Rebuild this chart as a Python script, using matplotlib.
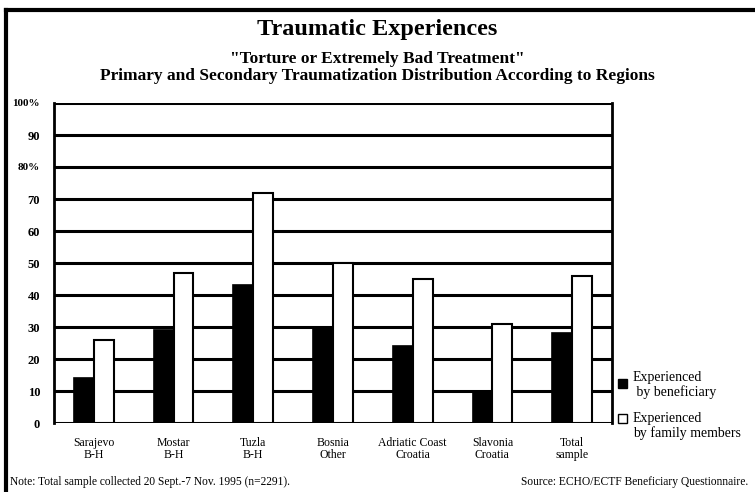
import numpy as np
import matplotlib
matplotlib.use("Agg")
from matplotlib import pyplot as plt
from matplotlib.lines import Line2D
from matplotlib.patches import Rectangle

regions = ["Sarajevo\nB-H", "Mostar\nB-H", "Tuzla\nB-H", "Bosnia\nOther",
           "Adriatic Coast\nCroatia", "Slavonia\nCroatia", "Total\nsample"]
beneficiary = [14, 29, 43, 30, 24, 10, 28]
family = [26, 47, 72, 50, 45, 31, 46]
y_ticks = [0, 10, 20, 30, 40, 50, 60, 70, 80, 90, 100]
y_labels = ["0", "10", "20", "30", "40", "50", "60", "70", "80%", "90", "100%"]

plt.rcParams['font.family'] = ['Liberation Serif', 'DejaVu Serif']

W, H = 755, 492
fig = plt.figure(figsize=(W / 100, H / 100), dpi=100)
ax = fig.add_axes([54 / W, 1 - 423 / H, (612 - 54) / W, (423 - 103) / H])

x = np.arange(len(regions))
bw = 0.25
for yv in y_ticks:
    ax.axhline(yv, color="black", lw=2.2, zorder=1)
ax.bar(x - bw / 2, beneficiary, bw, color="black", edgecolor="black", lw=1.2, zorder=3)
ax.bar(x + bw / 2, family, bw, color="white", edgecolor="black", lw=1.5, zorder=3)

ax.set_xlim(-0.5, 6.5)
ax.set_ylim(0, 100)
ax.set_yticks(y_ticks)
ax.set_yticklabels(y_labels, fontweight="bold")
for lab in ax.get_yticklabels():
    # the percent labels are set a little smaller in the original
    lab.set_fontsize(8 if "%" in lab.get_text() else 9)
ax.tick_params(axis="y", length=0, pad=10)
ax.set_xticks(x)
ax.set_xticklabels(regions, fontsize=8.5, linespacing=1.05)
ax.tick_params(axis="x", length=0, pad=10)
for s in ["left", "right"]:
    ax.spines[s].set_linewidth(2)
ax.spines["top"].set_visible(False)
ax.spines["bottom"].set_visible(False)

# outer frame (top and left only)
fig.add_artist(Line2D([6 / W, 1], [1 - 10 / H, 1 - 10 / H], color="black", lw=3))
fig.add_artist(Line2D([6 / W, 6 / W], [0, 1 - 10 / H], color="black", lw=3))

fig.text(0.5, 1 - 29 / H, "Traumatic Experiences", ha="center", va="center",
         fontsize=17.5, fontweight="bold")
fig.text(0.5, 1 - 59 / H, "\"Torture or Extremely Bad Treatment\"", ha="center",
         va="center", fontsize=12.5, fontweight="bold")
fig.text(0.5, 1 - 76 / H,
         "Primary and Secondary Traumatization Distribution According to Regions",
         ha="center", va="center", fontsize=12.5, fontweight="bold")

# legend
fig.add_artist(Rectangle((618 / W, 1 - 388 / H), 9 / W, 9 / H, facecolor="black",
                         edgecolor="black", lw=1, transform=fig.transFigure))
fig.text(633 / W, 1 - 385 / H, "Experienced\n by beneficiary", ha="left", va="center",
         fontsize=10, linespacing=1.05)
fig.add_artist(Rectangle((618 / W, 1 - 423 / H), 9 / W, 9 / H, facecolor="white",
                         edgecolor="black", lw=1, transform=fig.transFigure))
fig.text(633 / W, 1 - 426 / H, "Experienced\nby family members", ha="left", va="center",
         fontsize=10, linespacing=1.05)

fig.text(10 / W, 1 - 482 / H, "Note: Total sample collected 20 Sept.-7 Nov. 1995 (n=2291).",
         ha="left", va="center", fontsize=8.3)
fig.text(748 / W, 1 - 482 / H, "Source: ECHO/ECTF Beneficiary Questionnaire.",
         ha="right", va="center", fontsize=8.3)

fig.savefig("out.png", dpi=100)
